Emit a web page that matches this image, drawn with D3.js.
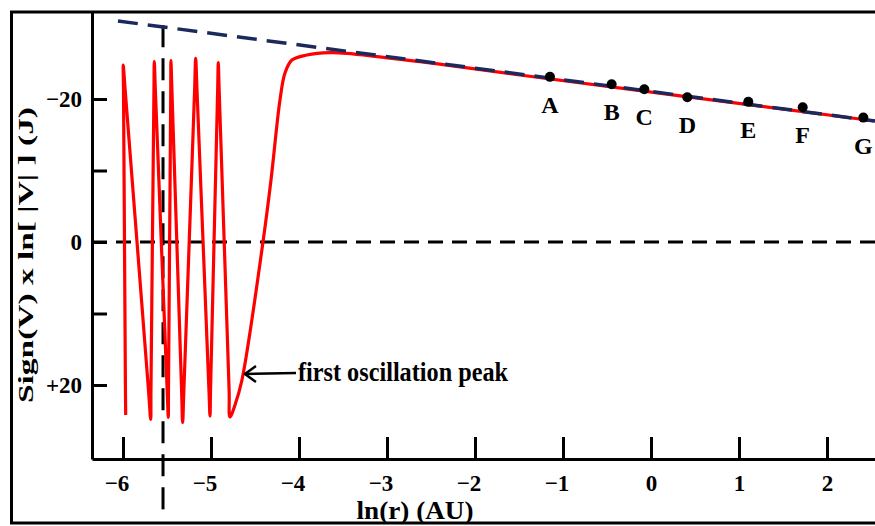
<!DOCTYPE html>
<html lang="en">
<head>
    <meta charset="UTF-8">
    <title>Sign(V) x ln|V| against ln(r)</title>
    <script src="https://cdn.jsdelivr.net/npm/d3@7"></script>
    <style>
        body { margin: 0; background: #fff; }
        svg { display: block; }
        text { font-family: "Liberation Serif", "Times New Roman", serif; font-weight: bold; fill: #000; }
        .tick text { font-size: 23px; }
    </style>
</head>
<body>
<svg width="875" height="526"></svg>
<script>
    // red curve: ln(r) and Sign(V) x ln|V|
    const curveX = [-5.969, -5.972, -5.994, -5.997, -5.975, -5.710, -5.685, -5.682, -5.648, -5.644,
        -5.632, -5.498, -5.485, -5.483, -5.457, -5.455, -5.444, -5.334, -5.322, -5.308,
        -5.186, -5.174, -5.159, -5.023, -5.011, -5.005, -4.924, -4.917, -4.907, -4.794,
        -4.784, -4.727, -4.648, -4.409, -4.318, -4.216, -4.159, -4.080, -3.909, -3.648,
        -3.455, -2.625, -1.489, 2.545];
    const curveY = [24.2, 20.7, -21.26, -24.76, -21.26, 20.7, 24.8, 20.7, -21.26, -25.22,
        -21.26, 20.7, 24.52, 20.7, -21.26, -25.36, -21.26, 20.7, 25.27, 20.7,
        -21.26, -25.69, -21.26, 20.7, 24.34, 20.7, -21.26, -25.08, -21.26, 20.7,
        24.48, 22.8, 19.3, 0, -8.67, -19.86, -23.64, -25.45, -26.15, -26.48,
        -26.39, -25.22, -23.36, -16.92];

    // dashed asymptote (two ends)
    const asymX = [-6.057, 2.545];
    const asymY = [-30.91, -16.92];

    // labelled points
    const pointNames = ["A", "B", "C", "D", "E", "F", "G"];
    const pointX = [-1.148, -0.447, -0.076, 0.413, 1.106, 1.724, 2.413];
    const pointY = [-23.1, -22.06, -21.36, -20.24, -19.6, -18.84, -17.4];

    const xTicks = [-6, -5, -4, -3, -2, -1, 0, 1, 2];
    const yTicks = [-20, -10, 0, 10, 20];
    const yTickLabels = {"-20": "\u221220", "0": "0", "20": "+20"};

    // vertical dashed marker
    const markerX = -5.545;
    const markerY = [-30.3, 37.8];

    const noteText = "first oscillation peak";
    const noteTip = [-4.614, 18.46];
    const noteAt = [-4.011, 19.44];

    const svg = d3.select("svg");

    const x = d3.scaleLinear().domain([-6.352, 2.557]).range([92, 876]);
    const y = d3.scaleLinear().domain([-32.17, 30.35]).range([12, 459]);

    // frame round the figure
    svg.append("rect")
        .attr("x", 11.5).attr("y", 12)
        .attr("width", 900).attr("height", 511)
        .attr("fill", "none").attr("stroke", "#000").attr("stroke-width", 3);

    // zero line
    svg.append("line")
        .attr("x1", x(-6.352)).attr("x2", x(2.557))
        .attr("y1", y(0)).attr("y2", y(0))
        .attr("stroke", "#000").attr("stroke-width", 3)
        .attr("stroke-dasharray", "15,9");

    // vertical marker
    svg.append("line")
        .attr("x1", x(markerX)).attr("x2", x(markerX))
        .attr("y1", y(markerY[0])).attr("y2", y(markerY[1]))
        .attr("stroke", "#000").attr("stroke-width", 3)
        .attr("stroke-dasharray", "22,11");

    // axes
    const xAxis = svg.append("g")
        .attr("transform", `translate(0,${y(30.35)})`)
        .call(d3.axisBottom(x).tickValues(xTicks)
            .tickSizeInner(-22).tickSizeOuter(0).tickPadding(16)
            .tickFormat(d => d < 0 ? "\u2212" + Math.abs(d) : d));
    xAxis.selectAll("text").attr("dx", d => d < 0 ? "-0.28em" : 0);

    const yAxis = svg.append("g")
        .attr("transform", `translate(${x(-6.352)},0)`)
        .call(d3.axisLeft(y).tickValues(yTicks)
            .tickSizeInner(-15).tickSizeOuter(0).tickPadding(10)
            .tickFormat(d => yTickLabels[d] || ""));

    svg.selectAll(".domain, .tick line")
        .attr("stroke", "#000").attr("stroke-width", 3);

    // red curve
    const idx = d3.range(curveX.length);
    svg.append("path")
        .attr("d", d3.line()
            .x(i => x(curveX[i]))
            .y(i => y(curveY[i]))
            .curve(d3.curveCatmullRom.alpha(0.5))(idx))
        .attr("fill", "none")
        .attr("stroke", "#ff0000")
        .attr("stroke-width", 3.2)
        .attr("stroke-linejoin", "round");

    // asymptote
    svg.append("line")
        .attr("x1", x(asymX[0])).attr("y1", y(asymY[0]))
        .attr("x2", x(asymX[1])).attr("y2", y(asymY[1]))
        .attr("stroke", "#1b2a5c").attr("stroke-width", 3.5)
        .attr("stroke-dasharray", "20,10");

    // points and letters
    svg.selectAll(".pt")
        .data(pointNames)
        .enter().append("circle")
        .attr("class", "pt")
        .attr("cx", (d, i) => x(pointX[i]))
        .attr("cy", (d, i) => y(pointY[i]))
        .attr("r", 5)
        .attr("fill", "#000");

    svg.selectAll(".ptlabel")
        .data(pointNames)
        .enter().append("text")
        .attr("class", "ptlabel")
        .attr("x", (d, i) => x(pointX[i]))
        .attr("y", (d, i) => y(pointY[i]))
        .attr("dy", 36)
        .attr("text-anchor", "middle")
        .style("font-size", "24px")
        .text(d => d);

    // annotation with arrow
    const tx = x(noteTip[0]), ty = y(noteTip[1]);
    svg.append("line")
        .attr("x1", tx).attr("y1", ty)
        .attr("x2", x(noteAt[0]) - 2).attr("y2", ty - 1)
        .attr("stroke", "#000").attr("stroke-width", 2.5);
    svg.append("path")
        .attr("d", `M${tx + 11},${ty - 8}L${tx},${ty}L${tx + 11},${ty + 8}`)
        .attr("fill", "none").attr("stroke", "#000").attr("stroke-width", 2.5);
    svg.append("text")
        .attr("x", x(noteAt[0])).attr("y", y(noteAt[1]))
        .attr("textLength", 210).attr("lengthAdjust", "spacingAndGlyphs")
        .style("font-size", "27px")
        .text(noteText);

    // axis titles
    svg.append("text")
        .attr("x", 415).attr("y", 519)
        .attr("text-anchor", "middle")
        .attr("textLength", 117).attr("lengthAdjust", "spacingAndGlyphs")
        .style("font-size", "25px")
        .text("ln(r) (AU)");

    svg.append("text")
        .attr("transform", "translate(33,255) rotate(-90)")
        .attr("text-anchor", "middle")
        .attr("textLength", 296).attr("lengthAdjust", "spacingAndGlyphs")
        .style("font-size", "21px")
        .text("Sign(V) x ln[ |V| ] (J)");
</script>
</body>
</html>
